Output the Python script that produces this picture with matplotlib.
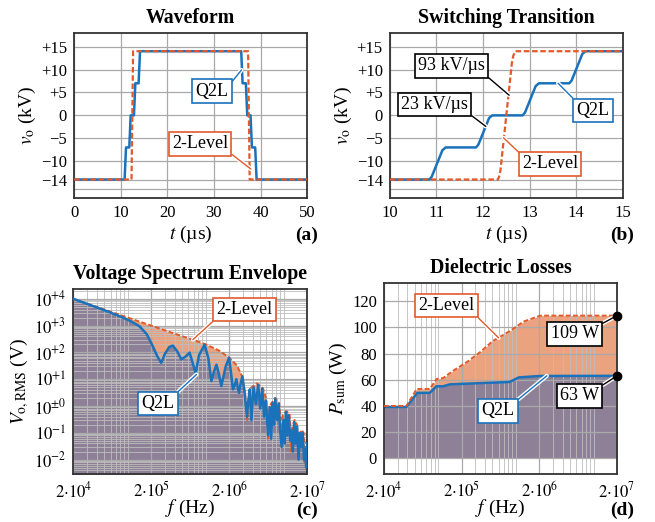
import matplotlib as mpl
mpl.use('Agg')
import matplotlib.pyplot as plt
import matplotlib.patheffects as pe
from matplotlib.ticker import FixedLocator, NullFormatter

plt.rcParams['font.family'] = ['Liberation Serif', 'DejaVu Serif']
plt.rcParams['mathtext.fontset'] = 'stix'

# colours
BLUE = '#1a72bb'
ORANGE = '#e05a2b'
FILL_OR = '#eba27e'
FILL_PU = '#8e8197'
GRID = '#a9a9a9'

# (a) waveform
t_q2l_a = [0, 10.85, 11.15, 11.85, 12.15, 12.85, 13.15, 13.85, 14.15,
           35.85, 36.15, 36.85, 37.15, 37.85, 38.15, 38.85, 39.15, 50]
v_q2l_a = [-14, -14, -7, -7, 0, 0, 7, 7, 14,
           14, 7, 7, 0, 0, -7, -7, -14, -14]
t_2l_a = [0, 12.33, 12.67, 37.33, 37.67, 50]
v_2l_a = [-14, -14, 14, 14, -14, -14]

# (b) switching transition
t_q2l_b = [10, 10.85, 10.9, 11.13, 11.2, 11.85, 11.9, 12.13, 12.2,
           12.85, 12.9, 13.13, 13.2, 13.85, 13.9, 14.13, 14.2, 15]
v_q2l_b = [-14, -14, -13.4, -7.6, -7, -7, -6.4, -0.6, 0,
           0, 0.6, 6.4, 7, 7, 7.6, 13.4, 14, 14]
t_2l_b = [10, 12.32, 12.36, 12.38, 12.62, 12.65, 12.69, 15]
v_2l_b = [-14, -14, -13, -11.5, 11.5, 13, 14, 14]

v_ticks = [-14, -10, -5, 0, 5, 10, 15]
v_labels = ['\u221214', '\u221210', '\u22125', '0', '+5', '+10', '+15']

# (c) voltage spectrum envelope
f_2l_c = [2e4, 5e4, 1e5, 2e5, 4e5, 7e5, 1e6, 1.5e6, 2e6, 2.5e6, 2.9e6, 3.2e6, 3.4e6,
          3.7e6, 4.5e6, 5.4e6, 6.0e6, 6.3e6,
          6.6e6, 7.7e6, 8.7e6, 9.1e6, 9.4e6,
          9.7e6, 1.08e7, 1.19e7, 1.23e7, 1.25e7,
          1.28e7, 1.38e7, 1.48e7, 1.53e7, 1.55e7,
          1.58e7, 1.69e7, 1.8e7, 1.83e7, 1.85e7,
          1.88e7, 2e7]
v_2l_c = [1e4, 4e3, 2e3, 1e3, 5e2, 2.9e2, 2.0e2, 1.15e2, 63, 33, 13.5, 3.0, 0.3,
          4.5, 7.0, 4.7, 1.7, 0.06,
          1.0, 2.0, 1.35, 0.4, 0.03,
          0.45, 0.65, 0.5, 0.12, 0.02,
          0.15, 0.3, 0.2, 0.06, 0.012,
          0.07, 0.13, 0.1, 0.03, 0.008,
          0.03, 0.06]

f_q2l_c = [2e4, 3e4, 4e4, 5.8e4, 8e4, 1.1e5, 1.41e5, 1.75e5, 2.09e5, 2.4e5, 2.68e5,
           3.0e5, 3.4e5, 3.78e5, 4.3e5, 4.85e5, 5.5e5, 6.2e5, 6.8e5, 7.4e5, 8.2e5,
           9.66e5, 1.08e6, 1.18e6, 1.28e6, 1.37e6, 1.48e6, 1.58e6, 1.8e6, 1.99e6,
           2.12e6, 2.23e6, 2.35e6, 2.47e6, 2.57e6, 2.67e6, 2.8e6, 2.95e6, 3.15e6,
           3.38e6, 3.5e6, 3.67e6, 3.85e6, 4.1e6, 4.4e6, 4.7e6, 5.0e6, 5.3e6, 5.6e6,
           5.9e6, 6.3e6, 6.6e6, 6.9e6, 7.2e6, 7.5e6, 7.8e6, 8.2e6, 8.6e6, 9.0e6,
           9.4e6, 9.9e6, 1.03e7, 1.07e7, 1.11e7, 1.16e7, 1.21e7, 1.26e7, 1.31e7,
           1.36e7, 1.42e7, 1.48e7, 1.55e7, 1.61e7, 1.68e7, 1.75e7, 1.82e7, 1.88e7,
           1.94e7, 2e7]
v_q2l_c = [1e4, 6.5e3, 4.8e3, 3.2e3, 2.2e3, 1.45e3, 950, 480, 170, 70, 41,
           90, 160, 180, 110, 55, 70, 98, 40, 17, 80,
           195, 60, 8.5, 20, 35, 15, 5.5, 30, 63,
           15, 4.2, 6, 10, 5, 3.1, 7, 12.9, 3,
           0.4, 1.5, 4.2, 0.3, 5, 1.2, 6.2, 0.8, 4.5, 0.4,
           1.6, 0.08, 0.9, 0.06, 1.3, 0.2, 1.9, 0.3, 1.2, 0.12,
           0.03, 0.3, 0.04, 0.6, 0.08, 0.45, 0.05, 0.12, 0.02,
           0.25, 0.04, 0.17, 0.01, 0.1, 0.03, 0.1, 0.01, 0.025,
           0.005, 0.04]

# (d) dielectric losses
f_2l_d = [2e4, 3.9e4, 5.3e4, 7.8e4, 9.5e4, 1.16e5, 1.56e5, 2.31e5, 3.43e5,
          5.1e5, 8.5e5, 1.26e6, 2.06e6, 2e7]
p_2l_d = [40, 40, 53, 53, 60.5, 61.3, 66.9, 73.3, 80.9,
          89.8, 97.5, 104.5, 109, 109]
f_q2l_d = [2e4, 3.9e4, 5.4e4, 7.8e4, 9.5e4, 1.16e5, 1.41e5, 8.3e5, 1.09e6, 2.05e6, 2e7]
p_q2l_d = [39.2, 39.2, 50, 50, 55, 55, 56.5, 58.3, 61.8, 62.9, 63]

f_ticks = [2e4, 2e5, 2e6, 2e7]
f_labels = [r'$2{\cdot}10^{4}$', r'$2{\cdot}10^{5}$', r'$2{\cdot}10^{6}$', r'$2{\cdot}10^{7}$']
f_minor = [m * 10 ** k for k in range(4, 8) for m in range(1, 10)
           if m != 2 and 2e4 < m * 10 ** k < 2e7]


def style(ax):
    ax.set_axisbelow('line')
    ax.grid(True, which='major', color=GRID, lw=0.9)
    ax.tick_params(which='both', length=0, labelsize=12, pad=5)
    for s in ax.spines.values():
        s.set_color('#333333')
        s.set_linewidth(1.3)


def tag(ax, text, xy, xytext, color, relpos):
    ax.annotate(text, xy=xy, xytext=xytext, ha='center', va='center', fontsize=13,
                bbox=dict(boxstyle='square,pad=0.18', fc='white', ec=color, lw=1.2),
                arrowprops=dict(arrowstyle='-', color=color, lw=1.0, relpos=relpos,
                                shrinkA=0, shrinkB=0,
                                path_effects=[pe.Stroke(linewidth=3, foreground='white'),
                                              pe.Normal()]),
                annotation_clip=False, zorder=6)


fig = plt.figure(figsize=(6.55, 5.22), dpi=100)
ax_a = fig.add_axes([0.113, 0.621, 0.356, 0.316])
ax_b = fig.add_axes([0.595, 0.621, 0.356, 0.316])
ax_c = fig.add_axes([0.112, 0.092, 0.357, 0.354])
ax_d = fig.add_axes([0.586, 0.092, 0.356, 0.366])

# ---- (a)
ax_a.plot(t_q2l_a, v_q2l_a, color=BLUE, lw=1.8, zorder=2)
ax_a.plot(t_2l_a, v_2l_a, color=ORANGE, lw=1.6, ls=(0, (2.5, 1.2)), zorder=3)
ax_a.set_xlim(0, 50)
ax_a.set_xticks([0, 10, 20, 30, 40, 50])
tag(ax_a, 'Q2L', (35.9, 9.9), (29.6, 5.3), BLUE, (1, 0.8))
tag(ax_a, '2-Level', (37.9, -11.7), (27, -6.2), ORANGE, (0.98, 0.1))
ax_a.set_title('Waveform', fontsize=14.3, fontweight='bold', pad=7)
ax_a.set_xlabel('$t$ (\u00b5s)', fontsize=14, labelpad=2)

# ---- (b)
ax_b.plot(t_q2l_b, v_q2l_b, color=BLUE, lw=1.8, zorder=2)
ax_b.plot(t_2l_b, v_2l_b, color=ORANGE, lw=1.6, ls=(0, (2.5, 1.2)), zorder=3)
ax_b.set_xlim(10, 15)
ax_b.set_xticks([10, 11, 12, 13, 14, 15])
tag(ax_b, '93 kV/\u00b5s', (12.56, 4.4), (11.32, 10.8), 'black', (1, 0))
tag(ax_b, '23 kV/\u00b5s', (12.06, -2.4), (10.96, 2.4), 'black', (1, 0))
tag(ax_b, 'Q2L', (13.61, 7), (14.36, 1.1), BLUE, (0, 1))
tag(ax_b, '2-Level', (12.44, -4.9), (13.44, -10.6), ORANGE, (0, 1))
ax_b.set_title('Switching Transition', fontsize=14.3, fontweight='bold', pad=7)
ax_b.set_xlabel('$t$ (\u00b5s)', fontsize=14, labelpad=2)

for ax in (ax_a, ax_b):
    style(ax)
    ax.set_ylim(-18, 18)
    ax.yaxis.set_major_locator(FixedLocator(v_ticks))
    ax.set_yticklabels(v_labels)
    ax.yaxis.set_minor_locator(FixedLocator([-16]))
    ax.grid(True, which='minor', axis='y', color=GRID, lw=0.9)
    ax.set_ylabel(r'$v_{\mathrm{o}}$ (kV)', fontsize=14, labelpad=2)

# ---- (c)
ax_c.set_xscale('log')
ax_c.set_yscale('log')
ax_c.fill_between(f_2l_c, v_2l_c, 1e-4, color=FILL_OR, lw=0, zorder=1)
ax_c.fill_between(f_q2l_c, v_q2l_c, 1e-4, color=FILL_PU, lw=0, zorder=1.1)
ax_c.plot(f_2l_c, v_2l_c, color=ORANGE, lw=1.4, ls=(0, (2.5, 1.2)), zorder=2)
ax_c.plot(f_q2l_c, v_q2l_c, color=BLUE, lw=1.8, zorder=3)
ax_c.set_ylim(2.9e-3, 2.3e4)
ax_c.yaxis.set_major_locator(FixedLocator([1e-2, 1e-1, 1, 10, 100, 1e3, 1e4]))
ax_c.set_yticklabels([r'$10^{-2}$', r'$10^{-1}$', r'$10^{\pm0}$', r'$10^{+1}$',
                      r'$10^{+2}$', r'$10^{+3}$', r'$10^{+4}$'])
ax_c.yaxis.set_minor_locator(FixedLocator(
    [m * 10.0 ** k for k in range(-3, 5) for m in range(2, 10)]))
ax_c.yaxis.set_minor_formatter(NullFormatter())
tag(ax_c, '2-Level', (6.84e5, 302), (3.16e6, 4e3), ORANGE, (0, 0))
tag(ax_c, 'Q2L', (7.6e5, 15), (2.43e5, 1.23), BLUE, (1, 1))
ax_c.set_title('Voltage Spectrum Envelope', fontsize=14.3, fontweight='bold', pad=7)
ax_c.set_ylabel(r'$V_{\mathrm{o,RMS}}$ (V)', fontsize=14, labelpad=2)

# ---- (d)
ax_d.set_xscale('log')
ax_d.fill_between(f_2l_d, p_2l_d, 0, color=FILL_OR, lw=0, zorder=1)
ax_d.fill_between(f_q2l_d, p_q2l_d, 0, color=FILL_PU, lw=0, zorder=1.1)
ax_d.plot(f_q2l_d, p_q2l_d, color=BLUE, lw=1.8, zorder=2)
ax_d.plot(f_2l_d, p_2l_d, color=ORANGE, lw=1.4, ls=(0, (2.5, 1.2)), zorder=3)
ax_d.plot([f_2l_d[-1], f_q2l_d[-1]], [p_2l_d[-1], p_q2l_d[-1]], 'o', color='black',
          ms=6, clip_on=False, zorder=7)
ax_d.set_ylim(-12, 134)
ax_d.set_yticks([0, 20, 40, 60, 80, 100, 120])
tag(ax_d, '2-Level', (6.0e5, 92), (1.28e5, 116.6), ORANGE, (1, 0))
tag(ax_d, '109 W', (2e7, 109), (5.7e6, 95), 'black', (1, 1))
tag(ax_d, '63 W', (2e7, 63), (6.6e6, 47.7), 'black', (1, 1))
tag(ax_d, 'Q2L', (2.5e6, 63), (5.9e5, 36.2), BLUE, (1, 1))
ax_d.set_title('Dielectric Losses', fontsize=14.3, fontweight='bold', pad=7)
ax_d.set_ylabel(r'$P_{\mathrm{sum}}$ (W)', fontsize=14, labelpad=2)

for ax in (ax_c, ax_d):
    style(ax)
    ax.set_xlim(2e4, 2e7)
    ax.xaxis.set_major_locator(FixedLocator(f_ticks))
    ax.set_xticklabels(f_labels)
    ax.xaxis.set_minor_locator(FixedLocator(f_minor))
    ax.xaxis.set_minor_formatter(NullFormatter())
    ax.grid(True, which='minor', color='#bdbdbd', lw=0.6)
    ax.set_xlabel('$f$ (Hz)', fontsize=14, labelpad=-2)

# panel letters
for lbl, x, y in [('(a)', 318, 240), ('(b)', 634, 240), ('(c)', 318, 515), ('(d)', 634, 515)]:
    fig.text(x / 655, 1 - y / 522, lbl, ha='right', va='baseline',
             fontsize=14, fontweight='bold')

fig.savefig('out.png', dpi=100)
